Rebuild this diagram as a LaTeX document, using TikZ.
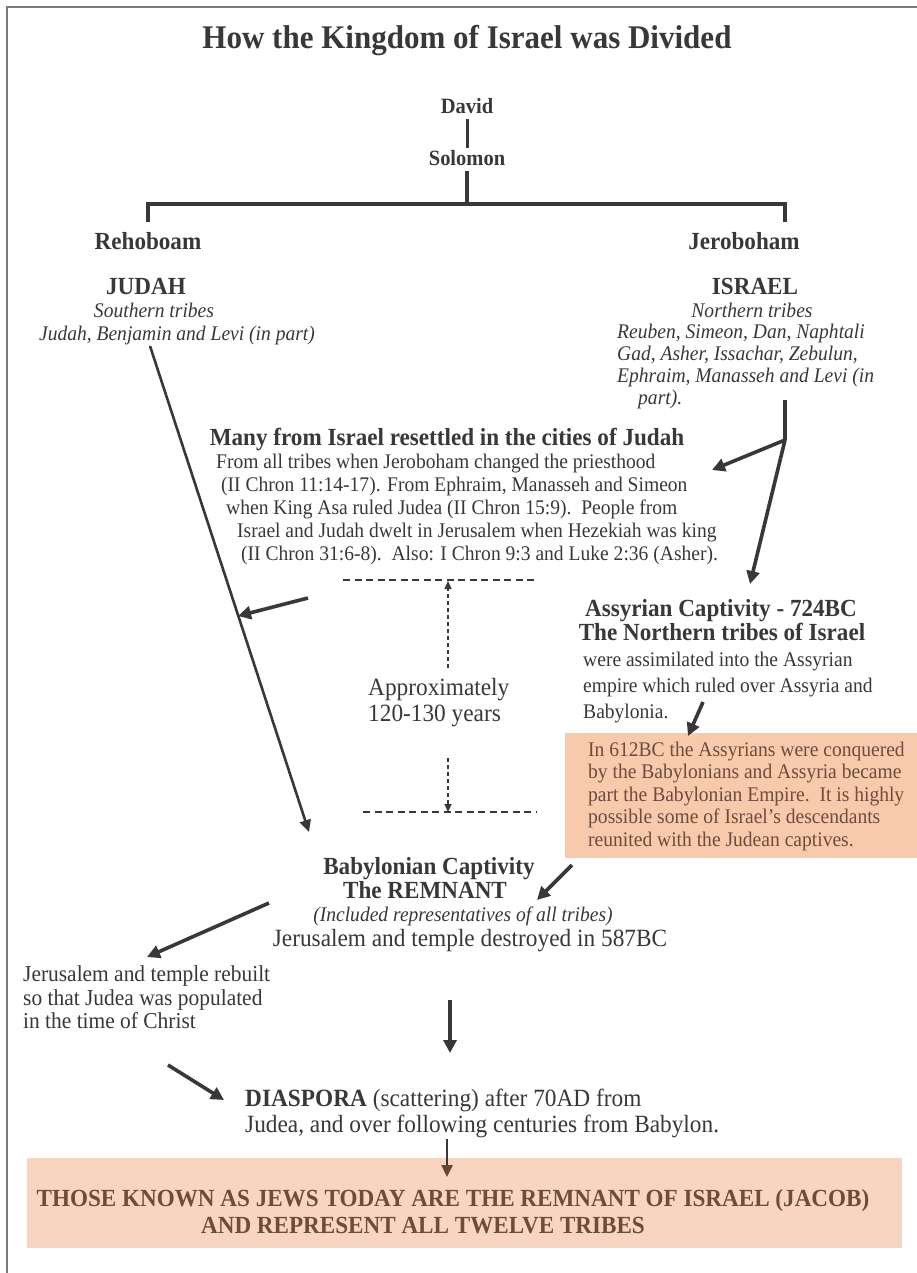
\documentclass[tikz,border=0pt]{standalone}
\usepackage{fontspec}
\setmainfont[FakeStretch=0.94]{Liberation Serif}
\usetikzlibrary{arrows.meta}
\definecolor{ink}{HTML}{383838}
\definecolor{peachA}{HTML}{F7CAAC}
\definecolor{peachB}{HTML}{F8D5C0}
\definecolor{brownT}{HTML}{6E4C3B}
\definecolor{borderc}{HTML}{7A7A7A}
\tikzset{
  lbl/.style={inner sep=0pt, text=ink, anchor=base},
  lblw/.style={inner sep=0pt, text=ink, anchor=base west},
  body/.style={font=\fontsize{20.8}{24}\selectfont},
  bodyit/.style={font=\itshape\fontsize{20.8}{24}\selectfont},
  big/.style={font=\fontsize{24.8}{28}\selectfont},
  bigb/.style={font=\bfseries\fontsize{24.6}{28}\selectfont},
  arr/.style={draw=ink, line width=3.6pt, -{Triangle[length=13pt,width=13pt]}},
  thinarr/.style={draw=ink, line width=2.6pt, -{Triangle[length=12pt,width=11pt]}},
  bar/.style={draw=ink, line width=3.6pt},
  dashln/.style={draw=ink, line width=1.6pt, dash pattern=on 7pt off 4.5pt},
  dasharr/.style={draw=ink, line width=1.2pt, dash pattern=on 4pt off 3pt, -{Triangle[length=8pt,width=7pt]}},
  boxA/.style={fill=peachA, draw=none},
  boxB/.style={fill=peachB, draw=none},
}
\begin{document}
\begin{tikzpicture}[x=1pt,y=-1pt]
\useasboundingbox (0,0) rectangle (917,1273);
\fill[white] (0,0) rectangle (917,1273);
% page border
\draw[borderc, line width=2pt] (7,1273) -- (7,7) -- (917,7);

% title
\node[lbl, font=\bfseries\fontsize{33}{38}\selectfont] (title) at (467,49) {How the Kingdom of Israel was Divided};

% family tree
\node[lbl, font=\bfseries\fontsize{21.8}{25}\selectfont] (david) at (467,114) {David};
\node[lbl, font=\bfseries\fontsize{21.8}{25}\selectfont] (solomon) at (467,166) {Solomon};
\coordinate (ds1) at (467,119);
\coordinate (ds2) at (467,148);
\draw[draw=ink, line width=3pt] (ds1) -- (ds2);
\coordinate (sb1) at (467,171);
\coordinate (sb2) at (467,204);
\draw[bar] (sb1) -- (sb2);
\coordinate (barL) at (148,222);
\coordinate (barLt) at (148,204);
\coordinate (barRt) at (785,204);
\coordinate (barR) at (785,222);
\draw[bar] (barL) -- (barLt) -- (barRt) -- (barR);

\node[lbl, bigb] (reh) at (148,250) {Rehoboam};
\node[lbl, bigb] (jer) at (744,250) {Jeroboham};

% Judah side
\node[lbl, bigb] (judah) at (146,294) {JUDAH};
\node[lbl, bodyit] (south) at (154,317) {Southern tribes};
\node[lbl, bodyit] (southt) at (177,340) {Judah, Benjamin and Levi (in part)};

% Israel side
\node[lbl, bigb] (israel) at (755,294) {ISRAEL};
\node[lbl, bodyit] (north) at (752,317) {Northern tribes};
\node[lblw, bodyit] (n1) at (617,338) {Reuben, Simeon, Dan, Naphtali};
\node[lblw, bodyit] (n2) at (617,360) {Gad, Asher, Issachar, Zebulun,};
\node[lblw, bodyit] (n3) at (617,382) {Ephraim, Manasseh and Levi (in};
\node[lblw, bodyit] (n4) at (638,404) {part).};

% Many from Israel
\node[lbl, bigb] (many) at (447,445) {Many from Israel resettled in the cities of Judah};
\node[lblw, body] (m1) at (216,468) {From all tribes when Jeroboham changed the priesthood};
\node[lblw, body] (m2) at (221,491) {(II Chron 11:14-17). From Ephraim, Manasseh and Simeon};
\node[lblw, body] (m3) at (226,514) {when King Asa ruled Judea (II Chron 15:9).\ \ People from};
\node[lblw, body] (m4) at (237,537) {Israel and Judah dwelt in Jerusalem when Hezekiah was king};
\node[lblw, body] (m5) at (241,560) {(II Chron 31:6-8).\ \ Also: I Chron 9:3 and Luke 2:36 (Asher).};

% right fork arrows
\coordinate (stem1) at (785,400);
\coordinate (fork) at (785,440);
\coordinate (tipMany) at (712,470);
\coordinate (tipAss) at (750,584);
\draw[bar] (stem1) -- (fork);
\draw[arr] (fork) -- (tipMany);
\draw[arr] (fork) -- (tipAss);

% long Judah line
\coordinate (jl1) at (150,346);
\coordinate (jl2) at (309,832);
\draw[thinarr] (jl1) -- (jl2);
\coordinate (sm1) at (308,598);
\coordinate (sm2) at (238,616);
\draw[arr] (sm1) -- (sm2);

% time span
\coordinate (dt1) at (343,580);
\coordinate (dt2) at (538,580);
\draw[dashln] (dt1) -- (dt2);
\coordinate (dv1) at (448,668);
\coordinate (dv2) at (448,581);
\draw[dasharr] (dv1) -- (dv2);
\node[lblw, big] (approx) at (368,695) {Approximately};
\node[lblw, big] (years) at (368,721) {120-130 years};
\coordinate (dv3) at (448,758);
\coordinate (dv4) at (448,812);
\draw[dasharr] (dv3) -- (dv4);
\coordinate (db1) at (363,812);
\coordinate (db2) at (536,812);
\draw[dashln] (db1) -- (db2);

% Assyrian captivity
\node[lbl, bigb] (ass1) at (721,616) {Assyrian Captivity - 724BC};
\node[lbl, bigb] (ass2) at (722,640) {The Northern tribes of Israel};
\node[lblw, body] (a1) at (583,666) {were assimilated into the Assyrian};
\node[lblw, body] (a2) at (583,692) {empire which ruled over Assyria and};
\node[lblw, body] (a3) at (583,718) {Babylonia.};
\coordinate (aa1) at (703,702);
\coordinate (aa2) at (688,736);

% peach box
\path[boxA] (565,733) rectangle (917,858);
\draw[arr] (aa1) -- (aa2);
\node[lblw, body, text=brownT] (p1) at (588,756) {In 612BC the Assyrians were conquered};
\node[lblw, body, text=brownT] (p2) at (588,778.5) {by the Babylonians and Assyria became};
\node[lblw, body, text=brownT] (p3) at (588,801) {part the Babylonian Empire.\ \ It is highly};
\node[lblw, body, text=brownT] (p4) at (588,823.5) {possible some of Israel’s descendants};
\node[lblw, body, text=brownT] (p5) at (588,846) {reunited with the Judean captives.};

% Babylonian captivity
\node[lbl, bigb] (bab1) at (429,874) {Babylonian Captivity};
\node[lbl, bigb] (bab2) at (425,898) {The REMNANT};
\node[lbl, bodyit] (bab3) at (463,921) {(Included representatives of all tribes)};
\node[lbl, big] (bab4) at (470,946) {Jerusalem and temple destroyed in 587BC};
\coordinate (rb1) at (572,865);
\coordinate (rb2) at (537,900);
\draw[arr] (rb1) -- (rb2);
\coordinate (lb1) at (269,903);
\coordinate (lb2) at (147,957);
\draw[arr] (lb1) -- (lb2);

% rebuilt
\node[lblw, font=\fontsize{22.8}{26}\selectfont] (r1) at (23,981) {Jerusalem and temple rebuilt};
\node[lblw, font=\fontsize{22.8}{26}\selectfont] (r2) at (23,1005) {so that Judea was populated};
\node[lblw, font=\fontsize{22.8}{26}\selectfont] (r3) at (23,1028) {in the time of Christ};
\coordinate (dn1) at (450,1000);
\coordinate (dn2) at (450,1053);
\draw[arr] (dn1) -- (dn2);
\coordinate (ld1) at (168,1065);
\coordinate (ld2) at (224,1100);
\draw[arr] (ld1) -- (ld2);

% diaspora
\node[lblw, big] (dia1) at (245,1106) {\textbf{DIASPORA} (scattering) after 70AD from};
\node[lblw, big] (dia2) at (245,1132) {Judea, and over following centuries from Babylon.};

% final box
\path[boxB] (27,1158) rectangle (902,1248);
\coordinate (fa1) at (447,1139);
\coordinate (fa2) at (447,1177);
\draw[draw=ink, line width=2.4pt, -{Triangle[length=12pt,width=11pt,color=brownT!80!ink]}] (fa1) -- (fa2);
\node[lbl, font=\bfseries\fontsize{24.6}{28}\selectfont, text=brownT] (f1) at (453,1206) {THOSE KNOWN AS JEWS TODAY ARE THE REMNANT OF ISRAEL (JACOB)};
\node[lbl, font=\bfseries\fontsize{24.6}{28}\selectfont, text=brownT] (f2) at (423,1233) {AND REPRESENT ALL TWELVE TRIBES};
\end{tikzpicture}
\end{document}
